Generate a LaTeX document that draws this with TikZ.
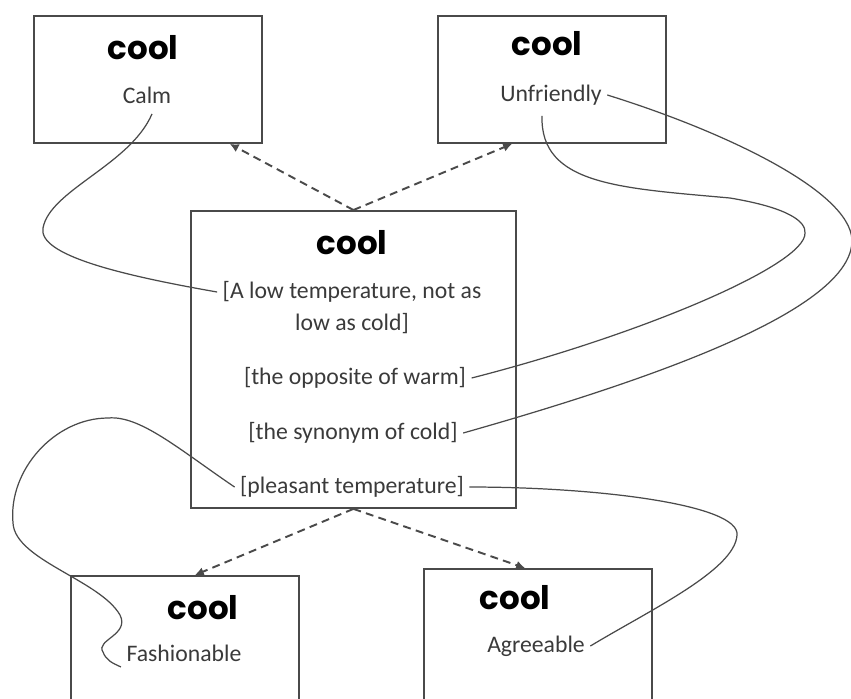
\documentclass[tikz,border=0pt]{standalone}
\usepackage{fontspec}
\setmainfont{Carlito}
\newfontfamily\headfont{Poppins}
\usetikzlibrary{arrows.meta}
\definecolor{linegray}{HTML}{4A4A4A}
\definecolor{textgray}{HTML}{3A3A3A}
\tikzset{
  wordbox/.style={draw=linegray, line width=1.1pt, minimum width=4.56cm, anchor=north west},
  headword/.style={font=\headfont\bfseries\fontsize{18.5}{20}\selectfont},
  sense/.style={font=\fontsize{13.5}{15}\selectfont, text=textgray, inner sep=3pt},
  link/.style={draw=linegray, line width=0.7pt},
  relation/.style={draw=linegray, line width=1.1pt, dash pattern=on 4.5pt off 3pt, -{Latex[length=5pt,width=5pt]}}
}
\begin{document}
\begin{tikzpicture}[x=0.02cm,y=-0.02cm]
\useasboundingbox (0,0) rectangle (851,698);
\clip (0,0) rectangle (851,698);
\node[wordbox, minimum height=2.54cm] (calmbox) at (33,15) {};
\node[wordbox, minimum height=2.54cm] (unfrbox) at (437,15) {};
\node[wordbox, minimum width=6.5cm, minimum height=5.94cm] (midbox) at (190,210) {};
\node[wordbox, minimum height=2.8cm] (fashbox) at (70,575) {};
\node[wordbox, minimum height=2.8cm] (agrbox) at (423,568) {};
\node[headword] (calmhead) at (143,48) {cool};
\node[sense] (calm) at (147,95) {Calm};
\node[headword] (unfrhead) at (547,44) {cool};
\node[sense] (unfr) at (551,95) {Unfriendly};
\node[headword] (midhead) at (352,243) {cool};
\node[sense] (low1) at (352,292) {[A low temperature, not as};
\node[sense] (low2) at (352,324) {low as cold]};
\node[sense] (opp) at (355,378) {[the opposite of warm]};
\node[sense] (syn) at (353,433) {[the synonym of cold]};
\node[sense] (pleas) at (352,487) {[pleasant temperature]};
\node[headword] (fashhead) at (203,608) {cool};
\node[sense] (fash) at (184,653) {Fashionable};
\node[headword] (agrhead) at (515,598) {cool};
\node[sense] (agree) at (536,646) {Agreeable};
\draw[relation] (midbox.north) -- ([xshift=-0.66cm]calmbox.south east);
\draw[relation] (midbox.north) -- ([xshift=1.5cm]unfrbox.south west);
\draw[relation] (midbox.south) -- ([xshift=2.5cm]fashbox.north west);
\draw[relation] (midbox.south) -- ([xshift=2.04cm]agrbox.north west);
\draw[link] ([xshift=0.1cm,yshift=-0.1cm]calm.south) .. controls (130,165) and (50,190) .. (43,228) .. controls (38,255) and (120,275) .. (low1.west);
\draw[link] ([xshift=-0.18cm,yshift=-0.1cm]unfr.south) .. controls (540,185) and (620,188) .. (730,198) .. controls (790,208) and (806,222) .. (805,233) .. controls (806,265) and (640,335) .. (opp.east);
\draw[link] (unfr.east) .. controls (720,130) and (850,190) .. (852,240) .. controls (853,310) and (650,380) .. (syn.east);
\draw[link] (pleas.west) .. controls (180,450) and (140,415) .. (108,418) .. controls (55,418) and (8,470) .. (13,523) .. controls (15,560) and (100,580) .. (120,615) .. controls (130,635) and (95,640) .. (103,652) .. controls (106,660) and (112,663) .. (fash.south west);
\draw[link] (pleas.east) .. controls (600,487) and (740,505) .. (737,535) .. controls (735,570) and (650,610) .. (agree.east);
\end{tikzpicture}
\end{document}
